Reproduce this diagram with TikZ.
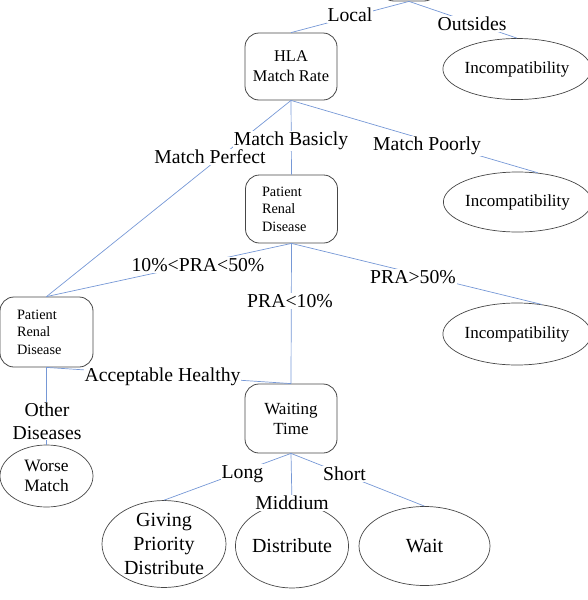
\documentclass[tikz,border=0pt]{standalone}
\usepackage{fontspec}
\setmainfont{Liberation Serif}
\usetikzlibrary{shapes.geometric}
\definecolor{edgeblue}{RGB}{118,152,214}
\definecolor{borderc}{RGB}{70,70,70}
\begin{document}
\begin{tikzpicture}[x=1pt,y=-1pt,
  rbox/.style={draw=borderc, line width=0.8pt, rounded corners=14pt, minimum width=92pt, minimum height=68pt, inner sep=0pt, align=center},
  pbox/.style={rbox, align=left, text width=59pt, inner xsep=16pt, font=\fontsize{14.3}{17.5}\selectfont},
  oval/.style={draw=borderc, line width=0.7pt, ellipse, inner sep=0pt, align=center},
  elabel/.style={fill=white, inner sep=1pt, font=\fontsize{19.7}{22.7}\selectfont, align=center},
  conn/.style={draw=edgeblue, line width=0.7pt}]
\useasboundingbox (0,0) rectangle (587,600);
% shape nodes
\node[rbox, minimum width=58pt, minimum height=40pt] (root) at (409,-19) {};
\node[rbox, minimum height=67pt, font=\fontsize{16.4}{19.7}\selectfont] (hla) at (291,66.5) {HLA\\Match Rate};
\node[pbox] (p1) at (291.5,209) {Patient\\Renal\\Disease};
\node[pbox, minimum width=93pt, minimum height=70pt] (p2) at (46.5,332) {Patient\\Renal\\Disease};
\node[rbox, minimum height=69pt, font=\fontsize{17}{20}\selectfont] (wt) at (291,418.5) {Waiting\\Time};
\node[oval, minimum width=137pt, minimum height=61pt, font=\fontsize{17}{20}\selectfont] (e1) at (517,69) {Incompatibility};
\node[oval, minimum width=139pt, minimum height=60pt, font=\fontsize{17}{20}\selectfont] (e2) at (517.5,202) {Incompatibility};
\node[oval, minimum width=140pt, minimum height=62pt, font=\fontsize{17}{20}\selectfont] (e3) at (517,334) {Incompatibility};
\node[oval, minimum width=93pt, minimum height=62pt, font=\fontsize{17.4}{20.7}\selectfont] (worse) at (46.5,476) {Worse\\Match};
\node[oval, minimum width=124pt, minimum height=82pt, font=\fontsize{20}{24}\selectfont] (give) at (164,544) {Giving\\Priority\\Distribute};
\node[oval, minimum width=110pt, minimum height=84pt, font=\fontsize{20}{24}\selectfont] (dist) at (292,546) {Distribute};
\node[oval, minimum width=131pt, minimum height=79pt, font=\fontsize{20}{24}\selectfont] (wait) at (424.5,546) {Wait};
% connectors
\draw[conn] (root.south) -- (hla.north);
\draw[conn] (root.south) -- (e1.north);
\draw[conn] (hla.south) -- (p2.north);
\draw[conn] (hla.south) -- (p1.north);
\draw[conn] (hla.south) -- (e2.55);
\draw[conn] (p1.south) -- (p2.north);
\draw[conn] (p1.south) -- (wt.north);
\draw[conn] (p1.south) -- (e3.50);
\draw[conn] (p2.south) -- (wt.north);
\draw[conn] (p2.south) -- (worse.north);
\draw[conn] (wt.south) -- (give.north);
\draw[conn] (wt.south) -- (dist.north);
\draw[conn] (wt.south) -- (wait.north);
% labels
\node[elabel] (lLocal) at (350,15) {Local};
\node[elabel] (lOut) at (472,24) {Outsides};
\node[elabel] (lBas) at (291,141) {Match Basicly};
\node[elabel] (lPerf) at (210,157) {Match Perfect};
\node[elabel] (lPoor) at (427,146) {Match Poorly};
\node[elabel] (l1050) at (198,265) {10\%<PRA<50\%};
\node[elabel] (l50) at (413,277) {PRA>50\%};
\node[elabel] (l10) at (290,301) {PRA<10\%};
\node[elabel] (lAcc) at (162.5,377) {Acceptable Healthy};
\node[elabel] (lOther) at (47,421) {Other\\Diseases};
\node[elabel] (lLong) at (242.5,474) {Long};
\node[elabel] (lMid) at (292,503) {Middium};
\node[elabel] (lShort) at (344.5,474) {Short};
\end{tikzpicture}
\end{document}
